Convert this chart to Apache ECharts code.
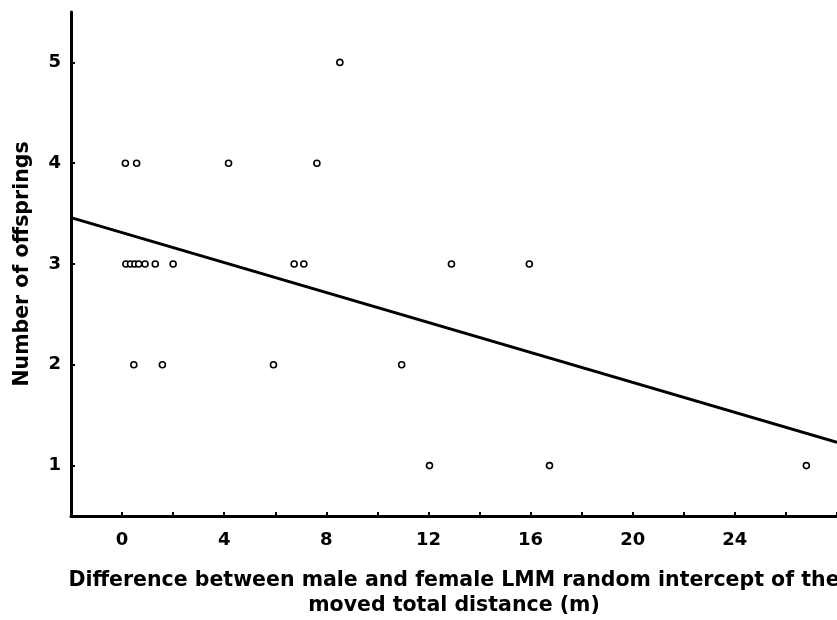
<!DOCTYPE html>
<html>
<head>
<meta charset="utf-8">
<script src="https://cdn.jsdelivr.net/npm/echarts@6/dist/echarts.min.js"></script>
<style>
html,body{margin:0;padding:0;background:#fff;}
#chart{width:837px;height:620px;}
</style>
</head>
<body>
<div id="chart"></div>
<script>
// Scatter points: difference (m) and number of offsprings
const pointX = [0.13, 0.57, 4.17, 7.63,
                0.15, 0.33, 0.5, 0.65, 0.9, 1.3, 2.0, 6.74, 7.12, 12.9, 15.95,
                0.46, 1.58, 5.93, 10.95,
                8.53,
                12.04, 16.74, 26.8];
const pointY = [4, 4, 4, 4,
                3, 3, 3, 3, 3, 3, 3, 3, 3, 3, 3,
                2, 2, 2, 2,
                5,
                1, 1, 1];
// Regression line endpoints
const lineX = [-2, 28];
const lineY = [3.46, 1.23];
// Tick values
const xTicks = [-2, 0, 2, 4, 6, 8, 10, 12, 14, 16, 18, 20, 22, 24, 26, 28];
const xLabels = [0, 4, 8, 12, 16, 20, 24];
const yTicks = [1, 2, 3, 4, 5];

const chart = echarts.init(document.getElementById('chart'));
const font = '"DejaVu Sans", "Liberation Sans", Arial, sans-serif';
chart.setOption({
  animation: false,
  backgroundColor: '#fff',
  grid: {left: 71, right: 0, top: 12, bottom: 104, containLabel: false, outerBoundsMode: 'none'},
  xAxis: {
    type: 'value', min: -2, max: 28,
    name: 'Difference between male and female LMM random intercept of the\nmoved total distance (m)',
    nameLocation: 'middle', nameGap: 52,
    nameTextStyle: {fontFamily: font, fontWeight: 'bold', fontSize: 20.5, color: '#000', lineHeight: 25},
    axisLine: {show: true, onZero: false, lineStyle: {color: '#000', width: 3}},
    axisTick: {show: true, inside: true, length: 4, lineStyle: {color: '#000', width: 2}, customValues: xTicks},
    axisLabel: {show: true, customValues: xLabels, margin: 15, fontFamily: font, fontWeight: 'bold', fontSize: 18, color: '#000'},
    splitLine: {show: false}
  },
  yAxis: {
    type: 'value', min: 0.5, max: 5.5,
    name: 'Number of offsprings',
    nameLocation: 'middle', nameGap: 38, nameRotate: 90,
    nameTextStyle: {fontFamily: font, fontWeight: 'bold', fontSize: 20.5, color: '#000'},
    axisLine: {show: true, onZero: false, lineStyle: {color: '#000', width: 3}},
    axisTick: {show: true, inside: true, length: 4, lineStyle: {color: '#000', width: 2}, customValues: yTicks},
    axisLabel: {show: true, customValues: yTicks, margin: 10, fontFamily: font, fontWeight: 'bold', fontSize: 18, color: '#000'},
    splitLine: {show: false}
  },
  series: [
    {
      type: 'line',
      data: lineX.map((x, i) => [x, lineY[i]]),
      symbol: 'none',
      lineStyle: {color: '#000', width: 3},
      z: 2
    },
    {
      type: 'scatter',
      data: pointX.map((x, i) => [x, pointY[i]]),
      symbol: 'circle',
      symbolSize: 6,
      itemStyle: {color: '#fff', borderColor: '#000', borderWidth: 1.6, opacity: 1},
      z: 3
    }
  ]
});
</script>
</body>
</html>
